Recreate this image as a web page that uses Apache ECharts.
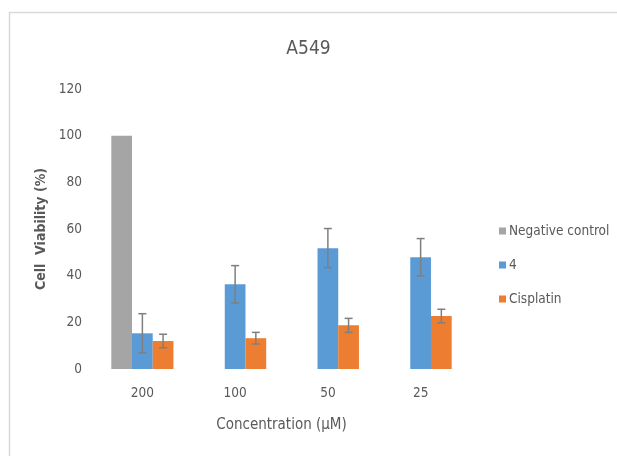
<!DOCTYPE html>
<html><head><meta charset="utf-8">
<script src="https://cdn.jsdelivr.net/npm/echarts@6/dist/echarts.min.js"></script>
<style>html,body{margin:0;padding:0;background:#fff}#c{width:617px;height:456px}</style>
</head><body><div id="c"></div>
<script>
var categories = ['200', '100', '50', '25'];
var negControl = [100, '-', '-', '-'];
var comp4 = [15.3, 36.3, 51.8, 47.9];
var comp4Err = [8.4, 8.0, 8.4, 8.0];
var cisplatin = [12.0, 13.2, 18.7, 22.7];
var cisplatinErr = [2.9, 2.5, 3.0, 2.9];
var yTicks = [0, 20, 40, 60, 80, 100, 120];

var FONT = "'DejaVu Sans Condensed', 'Liberation Sans Narrow', sans-serif";
var GAP = 0.33;

function errData(vals, errs) {
  return vals.map(function (v, i) { return [i, v - errs[i], v + errs[i]]; });
}
function makeErr(offsetIdx) {
  return function (params, api) {
    var i = api.value(0);
    var lo = api.coord([i, api.value(1)]);
    var hi = api.coord([i, api.value(2)]);
    var catW = api.size([1, 0])[0];
    var bw = catW * (1 - GAP) / 3;
    var x = lo[0] + offsetIdx * bw;
    var cap = 4;
    var st = { stroke: '#7f7f7f', lineWidth: 1.5 };
    return { type: 'group', children: [
      { type: 'line', shape: { x1: x, y1: lo[1], x2: x, y2: hi[1] }, style: st },
      { type: 'line', shape: { x1: x - cap, y1: lo[1], x2: x + cap, y2: lo[1] }, style: st },
      { type: 'line', shape: { x1: x - cap, y1: hi[1], x2: x + cap, y2: hi[1] }, style: st }
    ]};
  };
}

var chart = echarts.init(document.getElementById('c'));
chart.setOption({
  animation: false,
  textStyle: { fontFamily: FONT },
  graphic: [{
    type: 'polyline', silent: true,
    shape: { points: [[9.5, 456], [9.5, 12.5], [617, 12.5]] },
    style: { stroke: '#d9d9d9', lineWidth: 1.5, fill: null }
  }],
  title: {
    text: 'A549', left: 'center', top: 35,
    textStyle: { fontFamily: FONT, fontSize: 19, fontWeight: 'normal', color: '#595959' }
  },
  legend: {
    orient: 'vertical', left: 494, top: 219, itemGap: 20,
    itemWidth: 7, itemHeight: 7, icon: 'rect',
    data: ['Negative control', '4', 'Cisplatin'],
    textStyle: { fontFamily: FONT, fontSize: 13.5, color: '#595959', padding: [0, 0, 0, -2] }
  },
  grid: { left: 96, right: 150, top: 89, bottom: 87 },
  xAxis: {
    type: 'category', data: categories,
    axisLine: { show: false }, axisTick: { show: false },
    axisLabel: { fontFamily: FONT, fontSize: 13.5, color: '#595959', margin: 17 },
    name: 'Concentration (μM)', nameLocation: 'middle', nameGap: 49,
    nameTextStyle: { fontFamily: FONT, fontSize: 15, color: '#595959' }
  },
  yAxis: {
    type: 'value', min: 0, max: 120, interval: 20,
    splitLine: { show: false }, axisLine: { show: false }, axisTick: { show: false },
    axisLabel: { fontFamily: FONT, fontSize: 13.5, color: '#595959', margin: 14,
      formatter: function (v) { return yTicks.indexOf(v) >= 0 ? String(v) : ''; } },
    name: 'Cell  Viability (%)', nameLocation: 'middle', nameGap: 45,
    nameTextStyle: { fontFamily: FONT, fontSize: 14, color: '#595959', fontWeight: 'bold' }
  },
  series: [
    { name: 'Negative control', type: 'bar', data: negControl, barGap: '0%', barCategoryGap: '33%',
      itemStyle: { color: '#a5a5a5' } },
    { name: '4', type: 'bar', data: comp4, barGap: '0%', barCategoryGap: '33%',
      itemStyle: { color: '#5b9bd5' } },
    { name: 'Cisplatin', type: 'bar', data: cisplatin, barGap: '0%', barCategoryGap: '33%',
      itemStyle: { color: '#ed7d31' } },
    { type: 'custom', renderItem: makeErr(0), data: errData(comp4, comp4Err), z: 10,
      encode: { x: 0, y: [1, 2] } },
    { type: 'custom', renderItem: makeErr(1), data: errData(cisplatin, cisplatinErr), z: 10,
      encode: { x: 0, y: [1, 2] } }
  ]
});
</script></body></html>
